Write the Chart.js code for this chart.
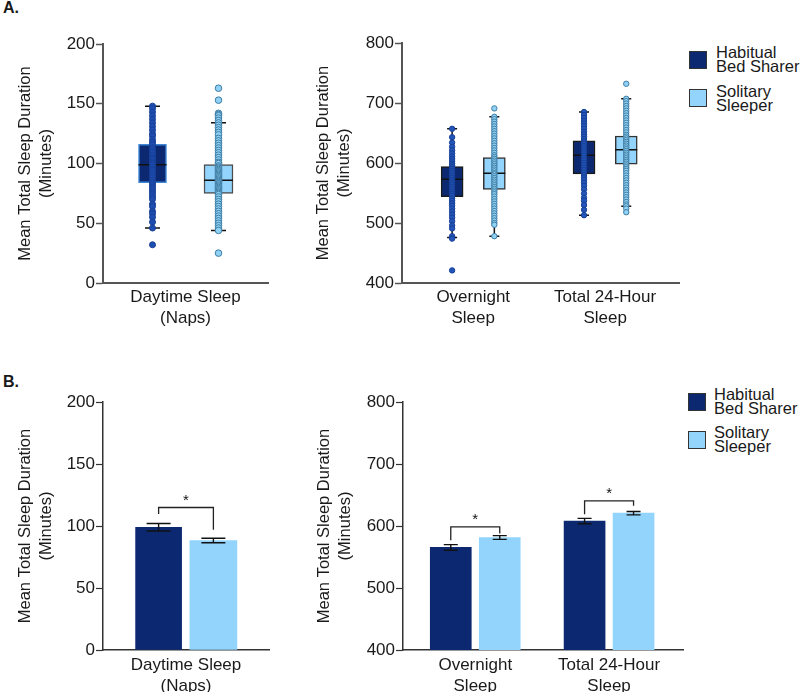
<!DOCTYPE html>
<html>
<head>
<meta charset="utf-8">
<script src="https://cdn.jsdelivr.net/npm/chart.js@4.4.1/dist/chart.umd.min.js"></script>
<style>
  body { margin: 0; background: #fff; width: 800px; height: 692px; position: relative; overflow: hidden;
         font-family: "Liberation Sans", Arial, sans-serif; color: #1a1a1a; }
  canvas { position: absolute; }
  .panel { position: absolute; font-weight: bold; font-size: 16px; line-height: 16px; }
  .sw { position: absolute; width: 16px; height: 16px; border: 1.5px solid #333; }
  .lt { position: absolute; font-size: 16.5px; line-height: 14px; white-space: nowrap; }
</style>
</head>
<body>
<div class="panel" style="left:3px;top:0px">A.</div>
<div class="panel" style="left:3px;top:374px">B.</div>

<canvas id="boxNap" width="280" height="332" style="left:0;top:0"></canvas>
<canvas id="boxDay" width="404" height="332" style="left:280px;top:0"></canvas>
<canvas id="barNap" width="280" height="332" style="left:0;top:360px"></canvas>
<canvas id="barDay" width="404" height="332" style="left:280px;top:360px"></canvas>

<!-- legends -->
<div class="sw" style="left:689px;top:51px;background:#0b2870"></div>
<div class="lt" style="left:716px;top:45px">Habitual<br>Bed Sharer</div>
<div class="sw" style="left:689px;top:89px;background:#93d4fc"></div>
<div class="lt" style="left:716px;top:84px">Solitary<br>Sleeper</div>

<div class="sw" style="left:688px;top:393px;background:#0b2870"></div>
<div class="lt" style="left:714px;top:387px">Habitual<br>Bed Sharer</div>
<div class="sw" style="left:688px;top:431px;background:#93d4fc"></div>
<div class="lt" style="left:714px;top:425px">Solitary<br>Sleeper</div>

<script>
const FONT = "'Liberation Sans', Arial, sans-serif";
const NAVY = "#0b2870";
const LIGHT = "#93d4fc";

const napLabels = [["Daytime Sleep", "(Naps)"]];
const dayLabels = [["Overnight", "Sleep"], ["Total 24-Hour", "Sleep"]];

// A. box plots (one entry per category)
const napBedQ1 = [84], napBedMedian = [99], napBedQ3 = [116], napBedLow = [46], napBedHigh = [148];
const napSoloQ1 = [75], napSoloMedian = [86], napSoloQ3 = [99], napSoloLow = [44], napSoloHigh = [134];
const dayBedQ1 = [544, 582], dayBedMedian = [573, 613], dayBedQ3 = [594, 637], dayBedLow = [476, 513], dayBedHigh = [657, 685];
const daySoloQ1 = [556, 598], daySoloMedian = [583, 622], daySoloQ3 = [609, 645], daySoloLow = [478, 528], daySoloHigh = [677, 707];

// A. individual infants
const napBedPoints = [[148, 146, 143, 140, 137, 134, 131, 128, 125, 123, 120, 118, 116, 113, 111, 109, 107, 105, 104, 103,
  101, 100, 99, 97, 95, 94, 92, 90, 88, 86, 84, 82, 80, 78, 76, 74, 72, 70, 66, 64, 60, 58, 55, 51, 46, 32]];
const napSoloPoints = [[163, 153, 142, 141, 140, 138, 136, 134, 132, 130, 128, 126, 124, 121, 119, 117, 115, 113, 111, 109,
  107, 105, 103, 101, 100, 98, 97, 96, 95, 94, 93, 92, 91, 90, 89, 88, 87, 86, 85, 84, 83, 82, 81, 80, 79, 78, 77, 76, 75,
  74, 72, 70, 68, 66, 64, 62, 60, 58, 56, 54, 52, 50, 48, 46, 44, 25]];
const overnightBedPoints = [657, 643, 634, 627, 621, 616, 611, 607, 603, 599, 596, 593, 590, 587, 584, 581, 578, 575, 572,
  569, 566, 563, 560, 557, 554, 551, 548, 545, 541, 537, 533, 529, 524, 519, 514, 509, 503, 496, 491, 478, 474, 421];
const overnightSoloPoints = [691, 677, 673, 669, 665, 661, 657, 653, 649, 645, 641, 637, 633, 629, 625, 621, 617, 613, 610,
  607, 604, 601, 598, 595, 592, 589, 586, 583, 581, 578, 575, 572, 569, 566, 563, 560, 557, 554, 551, 548, 544, 540, 536,
  532, 528, 524, 520, 516, 512, 508, 504, 500, 497, 478];
const totalBedPoints = [685, 680, 675, 670, 666, 662, 657, 652, 648, 644, 640, 636, 632, 628, 624, 620, 616, 612, 608, 604,
  600, 596, 592, 588, 584, 580, 576, 572, 567, 562, 556, 549, 542, 537, 530, 522, 513];
const totalSoloPoints = [732, 707, 703, 699, 695, 691, 687, 683, 679, 675, 671, 667, 663, 659, 655, 651, 647, 644, 641, 638,
  635, 632, 629, 626, 623, 620, 617, 614, 611, 608, 605, 602, 599, 596, 593, 590, 587, 583, 579, 575, 571, 567, 563, 559,
  555, 551, 547, 543, 539, 535, 531, 528, 524, 518];

// B. means and SEM
const napBedMean = [99], napBedSem = [3];
const napSoloMean = [88.3], napSoloSem = [1.8];
const dayBedMean = [565.5, 608], dayBedSem = [4.5, 4.3];
const daySoloMean = [581.5, 620.7], daySoloSem = [3, 2.7];

// B. significance brackets: level, left leg end, right leg end
const napBracketLevel = [114.9], napBracketLeft = [109.6], napBracketRight = [96.9];
const dayBracketLevel = [598.7, 640.6], dayBracketLeft = [577, 619], dayBracketRight = [588, 632.5];

// whiskers and medians drawn on top of each box
const boxWhiskers = {
  id: "boxWhiskers",
  afterDatasetDraw(chart, args) {
    const ds = chart.data.datasets[args.index];
    if (!ds.median) return;
    const y = chart.scales.y;
    const ctx = chart.ctx;
    ctx.save();
    ctx.strokeStyle = "#111";
    ctx.lineWidth = 1.5;
    args.meta.data.forEach((bar, i) => {
      const half = bar.width / 2;
      const top = Math.min(bar.y, bar.base), bottom = Math.max(bar.y, bar.base);
      const hi = y.getPixelForValue(ds.high[i]), lo = y.getPixelForValue(ds.low[i]);
      const md = y.getPixelForValue(ds.median[i]);
      ctx.beginPath();
      ctx.moveTo(bar.x, top); ctx.lineTo(bar.x, hi);
      ctx.moveTo(bar.x - ds.cap, hi); ctx.lineTo(bar.x + ds.cap, hi);
      ctx.moveTo(bar.x, bottom); ctx.lineTo(bar.x, lo);
      ctx.moveTo(bar.x - ds.cap, lo); ctx.lineTo(bar.x + ds.cap, lo);
      ctx.moveTo(bar.x - half, md); ctx.lineTo(bar.x + half, md);
      ctx.stroke();
    });
    ctx.restore();
  }
};

// mean ± SEM
const errorBars = {
  id: "errorBars",
  afterDatasetsDraw(chart) {
    const y = chart.scales.y;
    const ctx = chart.ctx;
    ctx.save();
    ctx.strokeStyle = "#111";
    ctx.lineWidth = 1.4;
    chart.data.datasets.forEach((ds, di) => {
      if (!ds.sem) return;
      chart.getDatasetMeta(di).data.forEach((bar, i) => {
        const m = ds.data[i].y;
        const t = y.getPixelForValue(m + ds.sem[i]), b = y.getPixelForValue(m - ds.sem[i]);
        ctx.beginPath();
        ctx.moveTo(bar.x, t); ctx.lineTo(bar.x, b);
        ctx.moveTo(bar.x - ds.cap, t); ctx.lineTo(bar.x + ds.cap, t);
        ctx.moveTo(bar.x - ds.cap, b); ctx.lineTo(bar.x + ds.cap, b);
        ctx.stroke();
      });
    });
    ctx.restore();
  }
};

const sigBrackets = {
  id: "sigBrackets",
  afterDatasetsDraw(chart, args, opts) {
    if (!opts.level) return;
    const y = chart.scales.y;
    const ctx = chart.ctx;
    const left = chart.getDatasetMeta(0).data, right = chart.getDatasetMeta(1).data;
    ctx.save();
    ctx.strokeStyle = "#222";
    ctx.lineWidth = 1.3;
    ctx.fillStyle = "#111";
    ctx.font = "15px " + FONT;
    ctx.textAlign = "center";
    ctx.textBaseline = "middle";
    opts.level.forEach((lv, i) => {
      const x1 = left[i].x, x2 = right[i].x, yl = y.getPixelForValue(lv);
      ctx.beginPath();
      ctx.moveTo(x1, y.getPixelForValue(opts.leftEnd[i]));
      ctx.lineTo(x1, yl);
      ctx.lineTo(x2, yl);
      ctx.lineTo(x2, y.getPixelForValue(opts.rightEnd[i]));
      ctx.stroke();
      ctx.fillText("*", (x1 + x2) / 2, yl - 7);
    });
    ctx.restore();
  }
};

function scales(o) {
  return {
    x: {
      type: "linear", min: o.xmin, max: o.xmax, offset: false,
      grid: { display: false, drawTicks: false, tickLength: 0, offset: false },
      border: { display: true, color: o.axisColor, width: o.axisWidth },
      afterBuildTicks: (s) => { s.ticks = o.labels.map((_, i) => ({ value: i + 0.5 })); },
      ticks: {
        callback: (v, i) => o.labels[i],
        autoSkip: false, maxRotation: 0, color: "#1a1a1a", padding: o.xpad,
        font: { family: FONT, size: 17, lineHeight: 1.22 }
      },
      afterFit: (s) => { s.height = o.xh; }
    },
    y: {
      min: o.ymin, max: o.ymax,
      ticks: { stepSize: o.step, color: "#1a1a1a", padding: 1, font: { family: FONT, size: 17 } },
      grid: { drawOnChartArea: false, drawTicks: true, tickLength: 7, tickColor: o.axisColor, tickWidth: o.tickWidth },
      border: { display: true, color: o.axisColor, width: o.axisWidth },
      title: {
        display: true, text: ["Mean Total Sleep Duration", "(Minutes)"], color: "#1a1a1a",
        font: { family: FONT, size: 16.5, lineHeight: 1.27 }, padding: { top: o.tpad, bottom: 0 }
      },
      afterFit: (s) => { s.width = o.yw; }
    }
  };
}

function baseOptions(o, extra) {
  return {
    responsive: false, animation: false, devicePixelRatio: 1,
    layout: { padding: { top: o.ptop, right: o.pright, bottom: o.pbottom, left: 0 } },
    scales: scales(o),
    plugins: Object.assign({ legend: { display: false }, tooltip: { enabled: false } }, extra || {})
  };
}

function boxSet(label, q1, q3, med, low, high, off, fill, border, thick, cap) {
  return {
    type: "bar", label, order: 2, grouped: false,
    data: q1.map((v, i) => ({ x: i + 0.5 + off, y: [v, q3[i]] })),
    median: med, low, high, cap,
    backgroundColor: fill, borderColor: border, borderWidth: 1.5, borderSkipped: false, barThickness: thick
  };
}

function pointSet(label, groups, off, fill, border, r) {
  const data = [];
  groups.forEach((vals, i) => vals.forEach((v) => data.push({ x: i + 0.5 + off, y: v })));
  return { type: "scatter", label, order: 1, data, backgroundColor: fill, borderColor: border, borderWidth: 1, pointRadius: r };
}

function barSet(label, mean, sem, off, fill, thick, cap) {
  return {
    type: "bar", label, grouped: false,
    data: mean.map((v, i) => ({ x: i + 0.5 + off, y: v })),
    sem, cap, backgroundColor: fill, borderWidth: 0, barThickness: thick
  };
}

// A. Daytime sleep
const napBox = { labels: napLabels, xmin: 0, xmax: 1, ymin: 0, ymax: 200, step: 50, yw: 103, xh: 47, ptop: 44, pright: 12, pbottom: 2,
  tpad: 15, xpad: 4, axisColor: "#555", axisWidth: 2, tickWidth: 1.5 };
new Chart(document.getElementById("boxNap"), {
  type: "bar",
  data: { datasets: [
    boxSet("Habitual Bed Sharer", napBedQ1, napBedQ3, napBedMedian, napBedLow, napBedHigh, -0.2, NAVY, "#3f86d6", 28, 7.5),
    boxSet("Solitary Sleeper", napSoloQ1, napSoloQ3, napSoloMedian, napSoloLow, napSoloHigh, 0.2, LIGHT, "#4d4d4d", 29, 7.5),
    pointSet("Habitual Bed Sharer", napBedPoints, -0.2, "#1d4db0", "#173f96", 3),
    pointSet("Solitary Sleeper", napSoloPoints, 0.2, "#8fd2f5", "#3f7ca3", 3.3)
  ] },
  options: baseOptions(napBox),
  plugins: [boxWhiskers]
});

// A. Overnight and 24-hour sleep
const dayBox = { labels: dayLabels, xmin: -0.04, xmax: 2.06, ymin: 400, ymax: 800, step: 100, yw: 122, xh: 47, ptop: 43, pright: 0, pbottom: 2,
  tpad: 33, xpad: 4, axisColor: "#555", axisWidth: 2, tickWidth: 1.5 };
new Chart(document.getElementById("boxDay"), {
  type: "bar",
  data: { datasets: [
    boxSet("Habitual Bed Sharer", dayBedQ1, dayBedQ3, dayBedMedian, dayBedLow, dayBedHigh, -0.16, NAVY, "#1a1a1a", 22, 5),
    boxSet("Solitary Sleeper", daySoloQ1, daySoloQ3, daySoloMedian, daySoloLow, daySoloHigh, 0.16, LIGHT, "#333", 22, 5),
    pointSet("Habitual Bed Sharer", [overnightBedPoints, totalBedPoints], -0.16, "#2356b8", "#173f96", 2.7),
    pointSet("Solitary Sleeper", [overnightSoloPoints, totalSoloPoints], 0.16, "#8fd2f5", "#3f7ca3", 2.7)
  ] },
  options: baseOptions(dayBox),
  plugins: [boxWhiskers]
});

// B. Daytime sleep means
const napBar = { labels: napLabels, xmin: 0, xmax: 1, ymin: 0, ymax: 200, step: 50, yw: 103, xh: 42, ptop: 42, pright: 11, pbottom: 0,
  tpad: 15, xpad: 5, axisColor: "#333", axisWidth: 1.5, tickWidth: 1.2 };
new Chart(document.getElementById("barNap"), {
  type: "bar",
  data: { datasets: [
    barSet("Habitual Bed Sharer", napBedMean, napBedSem, -0.165, NAVY, 46, 12),
    barSet("Solitary Sleeper", napSoloMean, napSoloSem, 0.165, LIGHT, 47, 12)
  ] },
  options: baseOptions(napBar, { sigBrackets: { level: napBracketLevel, leftEnd: napBracketLeft, rightEnd: napBracketRight } }),
  plugins: [errorBars, sigBrackets]
});

// B. Overnight and 24-hour means
const dayBar = { labels: dayLabels, xmin: -0.04, xmax: 2.06, ymin: 400, ymax: 800, step: 100, yw: 123, xh: 42, ptop: 42, pright: 0, pbottom: 0,
  tpad: 34, xpad: 5, axisColor: "#333", axisWidth: 1.5, tickWidth: 1.2 };
new Chart(document.getElementById("barDay"), {
  type: "bar",
  data: { datasets: [
    barSet("Habitual Bed Sharer", dayBedMean, dayBedSem, -0.183, NAVY, 41, 7),
    barSet("Solitary Sleeper", daySoloMean, daySoloSem, 0.183, LIGHT, 41, 7)
  ] },
  options: baseOptions(dayBar, { sigBrackets: { level: dayBracketLevel, leftEnd: dayBracketLeft, rightEnd: dayBracketRight } }),
  plugins: [errorBars, sigBrackets]
});
</script>
</body>
</html>
